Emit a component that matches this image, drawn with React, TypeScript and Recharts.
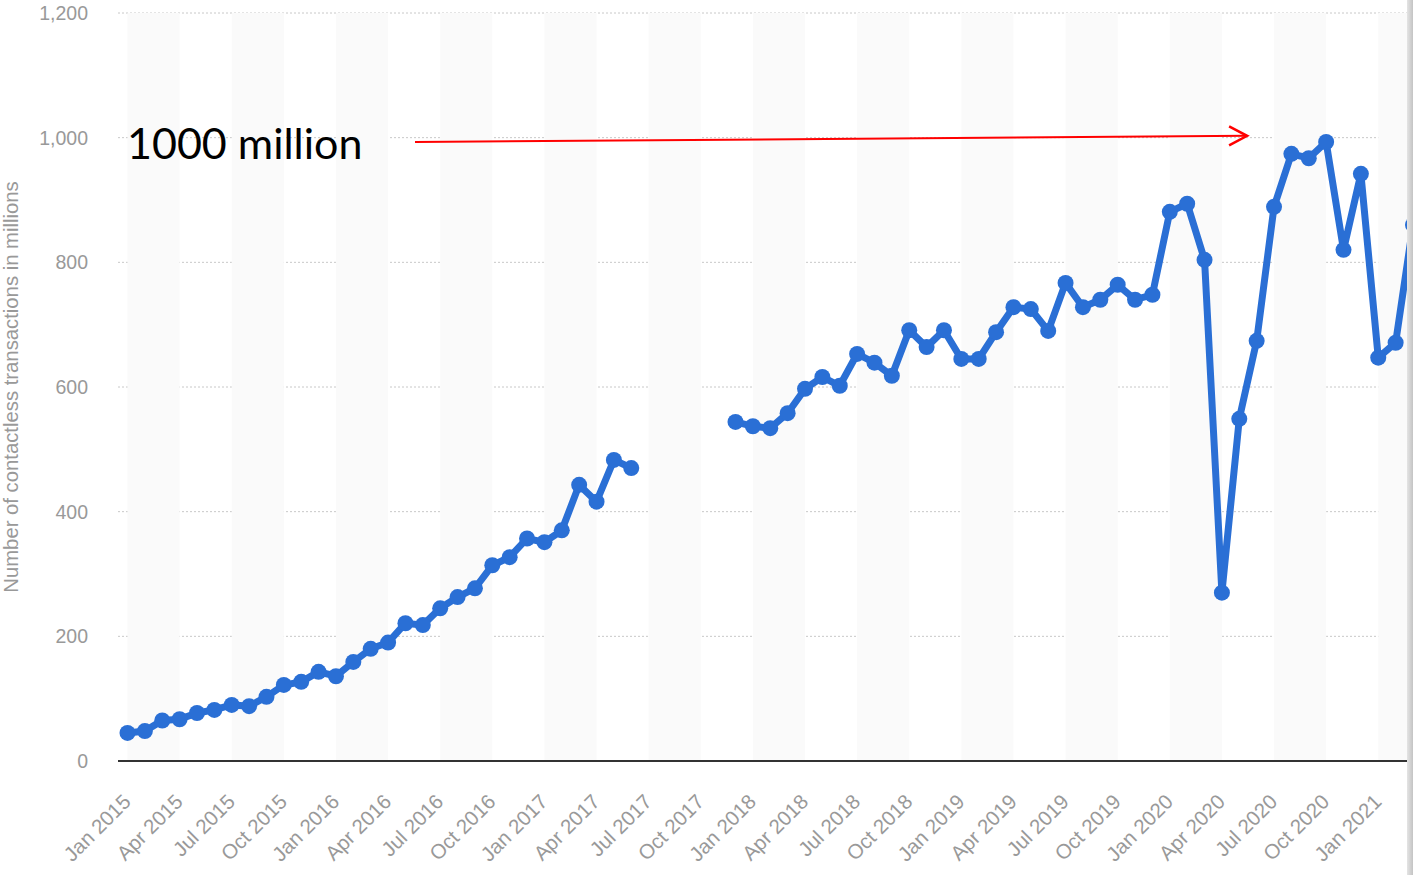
import * as React from "react";
import {
  LineChart,
  Line,
  XAxis,
  YAxis,
  CartesianGrid,
  ReferenceArea,
  ReferenceLine,
  Label,
} from "recharts";

// month categories, Jan 2015 .. Mar 2021
const monthNames = ["Jan", "Feb", "Mar", "Apr", "May", "Jun", "Jul", "Aug", "Sep", "Oct", "Nov", "Dec"];
const years = [2015, 2016, 2017, 2018, 2019, 2020, 2021];
const months = years.flatMap((y) => monthNames.map((m) => `${m} ${y}`)).slice(0, 75);

// contactless transactions, millions (null = no data Jul-Nov 2017)
const transactions: (number | null)[] = [
  45, 48, 65, 67, 77, 82, 90, 88, 103, 122, 127, 143,
  136, 159, 180, 190, 221, 218, 245, 263, 277, 314, 327, 357,
  351, 370, 443, 416, 483, 470, null, null, null, null, null, 544,
  537, 534, 558, 597, 616, 602, 653, 639, 618, 691, 664, 691,
  645, 645, 688, 728, 725, 690, 767, 728, 740, 764, 740, 748,
  881, 894, 804, 270, 549, 674, 889, 974, 967, 993, 820, 942,
  647, 671, 860,
];

const xTicks = [0, 3, 6, 9, 12, 15, 18, 21, 24, 27, 30, 33, 36, 39, 42, 45, 48, 51, 54, 57, 60, 63, 66, 69, 72];
const yTicks = [0, 200, 400, 600, 800, 1000, 1200];

// annotation arrow (month index, value)
const arrowFrom = { x: 16.55, y: 993 };
const arrowTo = { x: 64.45, y: 1003 };
const arrowText = "1000 million";

const data = months.map((month, idx) => ({ idx, month, value: transactions[idx] }));

const BLUE = "#2a6fd5";
const TICK_FONT = "'Liberation Sans', Arial, sans-serif";

const XTick = ({ x, y, payload }: any) => (
  <g transform={`translate(${x + 4.5},${y + 42})`}>
    <text x={0} y={0} textAnchor="end" transform="rotate(-45)" fill="#999" fontSize={20.5} fontFamily={TICK_FONT}>
      {months[payload.value]}
    </text>
  </g>
);

const Arrow = (props: any) => {
  const { x1, y1, x2, y2 } = props;
  return (
    <g>
      <text x={x1 - 288} y={y1 + 17} fontSize={43} fontFamily="Lato, 'Open Sans', sans-serif" fill="#000">
        {arrowText}
      </text>
      <line x1={x1} y1={y1} x2={x2} y2={y2} stroke="#f00" strokeWidth={2} />
      <polyline
        points={`${x2 - 18},${y2 - 9.5} ${x2},${y2} ${x2 - 18},${y2 + 9.5}`}
        fill="none"
        stroke="#f00"
        strokeWidth={2.5}
      />
    </g>
  );
};

export default function App() {
  return (
    <div style={{ position: "absolute", left: 0, top: 0, width: 1413, height: 875, background: "#fff", overflow: "hidden" }}>
      <LineChart width={1413} height={875} data={data} margin={{ top: 13, right: 0, bottom: 0, left: 0 }}>
        {xTicks
          .filter((t) => t % 6 === 0)
          .map((t) => (
            <ReferenceArea key={t} x1={t} x2={t + 3} fill="#fafafa" fillOpacity={1} stroke="none" ifOverflow="hidden" />
          ))}
        <CartesianGrid vertical={false} stroke="#c8c8c8" strokeDasharray="2 2" />
        <XAxis
          dataKey="idx"
          type="number"
          domain={[0, 74]}
          ticks={xTicks}
          interval={0}
          padding={{ left: 9.5, right: 0 }}
          tick={<XTick />}
          tickSize={0}
          tickMargin={0}
          axisLine={{ stroke: "#333", strokeWidth: 2 }}
          tickLine={false}
          height={114}
        />
        <YAxis
          width={118}
          domain={[0, 1200]}
          ticks={yTicks}
          tickSize={0}
          tickMargin={30}
          axisLine={false}
          tickLine={false}
          tick={{ fill: "#999", fontSize: 19.5, fontFamily: TICK_FONT }}
          tickFormatter={(v: number) => v.toLocaleString("en-US")}
        >
          <Label
            content={({ viewBox }: any) => {
              const cy = viewBox.y + viewBox.height / 2;
              return (
                <text
                  x={11}
                  y={cy}
                  transform={`rotate(-90 11 ${cy})`}
                  textAnchor="middle"
                  dominantBaseline="central"
                  fill="#999"
                  fontSize={20.3}
                  fontFamily={TICK_FONT}
                >
                  Number of contactless transactions in millions
                </text>
              );
            }}
          />
        </YAxis>
        <Line
          type="linear"
          dataKey="value"
          stroke={BLUE}
          strokeWidth={7}
          dot={{ r: 8, fill: BLUE, stroke: "none" }}
          activeDot={false}
          connectNulls={false}
          isAnimationActive={false}
        />
        <ReferenceLine segment={[arrowFrom, arrowTo]} shape={Arrow} ifOverflow="visible" />
      </LineChart>
      <div
        style={{
          position: "absolute",
          left: 1407,
          top: 0,
          width: 6,
          height: 875,
          background: "linear-gradient(to right, #e4e4e4, #c4c4c4)",
        }}
      />
    </div>
  );
}
